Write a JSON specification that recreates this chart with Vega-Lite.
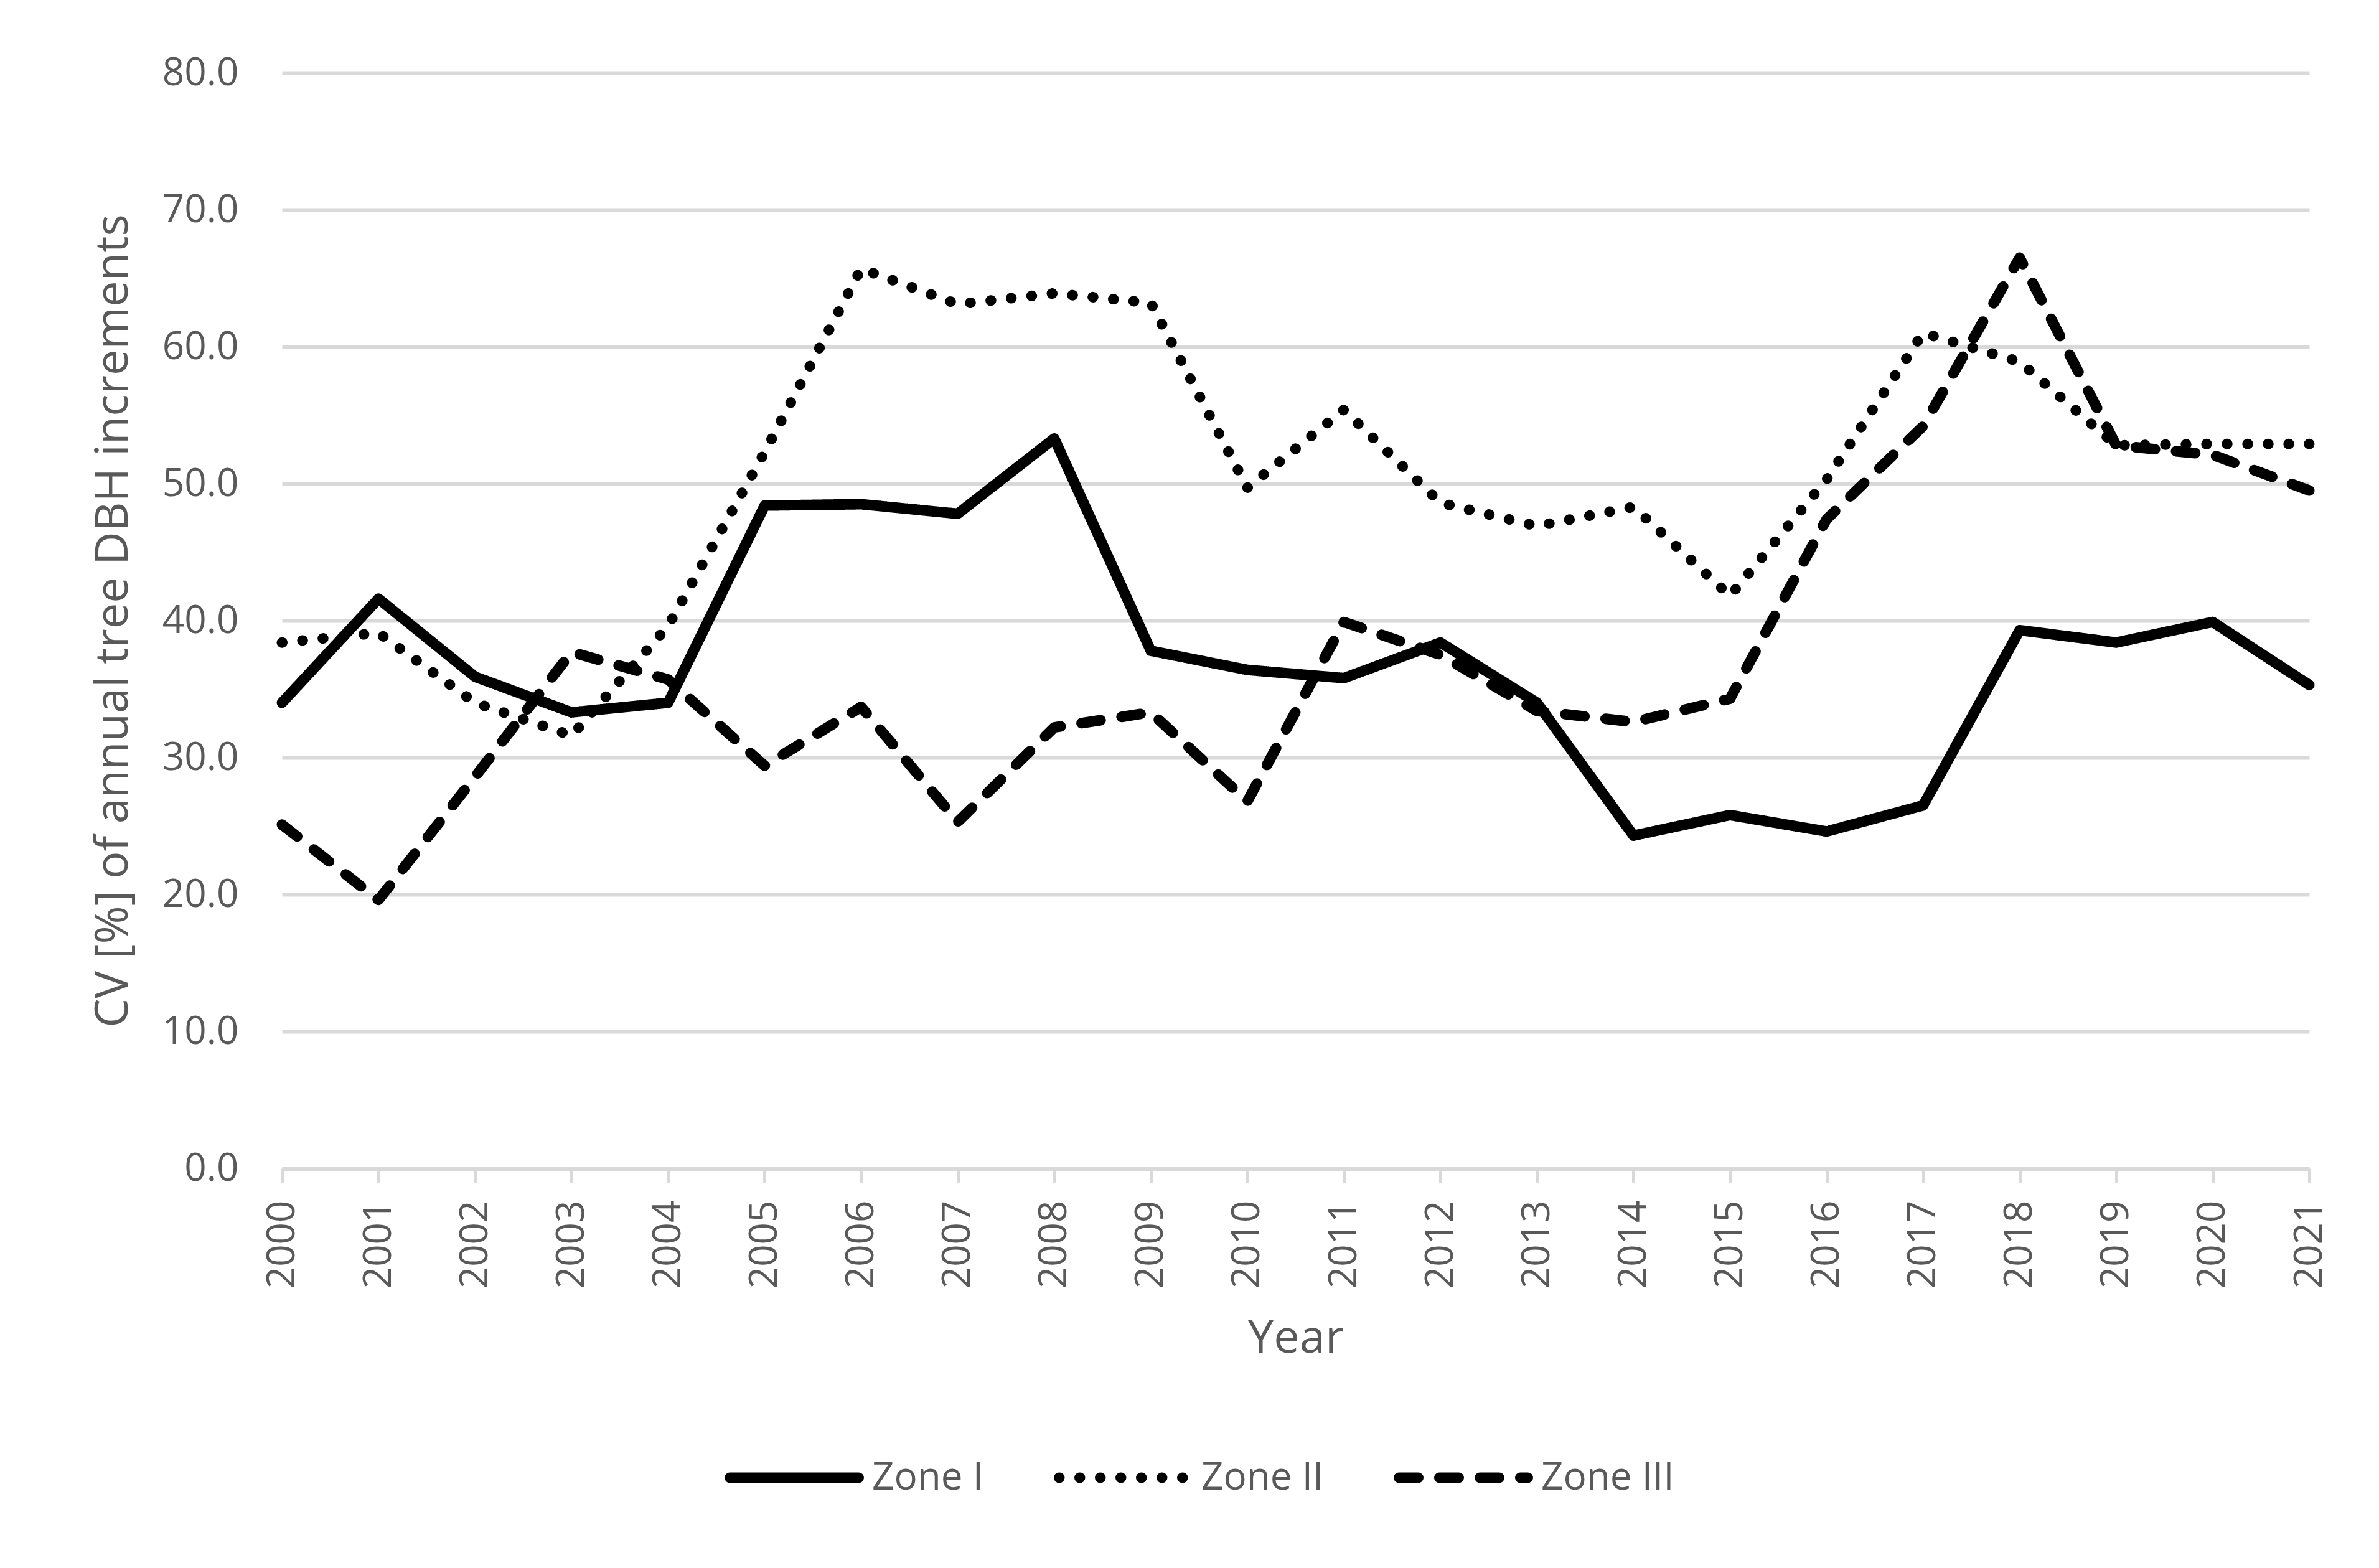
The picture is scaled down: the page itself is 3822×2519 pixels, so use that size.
{
  "$schema": "https://vega.github.io/schema/vega-lite/v6.json",
  "width": 3257,
  "height": 1760,
  "autosize": {"type": "none"},
  "padding": {"left": 453, "top": 117, "right": 112, "bottom": 642},
  "background": "white",
  "config": {"view": {"stroke": null}, "font": "Open Sans"},
  "data": {
    "values": [
      {"year": "2000", "zone": "Zone I", "cv": 34.0},
      {"year": "2001", "zone": "Zone I", "cv": 41.6},
      {"year": "2002", "zone": "Zone I", "cv": 35.9},
      {"year": "2003", "zone": "Zone I", "cv": 33.3},
      {"year": "2004", "zone": "Zone I", "cv": 34.0},
      {"year": "2005", "zone": "Zone I", "cv": 48.4},
      {"year": "2006", "zone": "Zone I", "cv": 48.5},
      {"year": "2007", "zone": "Zone I", "cv": 47.8},
      {"year": "2008", "zone": "Zone I", "cv": 53.3},
      {"year": "2009", "zone": "Zone I", "cv": 37.8},
      {"year": "2010", "zone": "Zone I", "cv": 36.4},
      {"year": "2011", "zone": "Zone I", "cv": 35.8},
      {"year": "2012", "zone": "Zone I", "cv": 38.4},
      {"year": "2013", "zone": "Zone I", "cv": 34.0},
      {"year": "2014", "zone": "Zone I", "cv": 24.3},
      {"year": "2015", "zone": "Zone I", "cv": 25.8},
      {"year": "2016", "zone": "Zone I", "cv": 24.6},
      {"year": "2017", "zone": "Zone I", "cv": 26.5},
      {"year": "2018", "zone": "Zone I", "cv": 39.3},
      {"year": "2019", "zone": "Zone I", "cv": 38.4},
      {"year": "2020", "zone": "Zone I", "cv": 39.9},
      {"year": "2021", "zone": "Zone I", "cv": 35.3},
      {"year": "2000", "zone": "Zone II", "cv": 38.4},
      {"year": "2001", "zone": "Zone II", "cv": 39.1},
      {"year": "2002", "zone": "Zone II", "cv": 34.0},
      {"year": "2003", "zone": "Zone II", "cv": 31.6},
      {"year": "2004", "zone": "Zone II", "cv": 39.6},
      {"year": "2005", "zone": "Zone II", "cv": 52.3},
      {"year": "2006", "zone": "Zone II", "cv": 65.7},
      {"year": "2007", "zone": "Zone II", "cv": 63.1},
      {"year": "2008", "zone": "Zone II", "cv": 63.9},
      {"year": "2009", "zone": "Zone II", "cv": 63.2},
      {"year": "2010", "zone": "Zone II", "cv": 49.7},
      {"year": "2011", "zone": "Zone II", "cv": 55.4},
      {"year": "2012", "zone": "Zone II", "cv": 48.6},
      {"year": "2013", "zone": "Zone II", "cv": 46.9},
      {"year": "2014", "zone": "Zone II", "cv": 48.3},
      {"year": "2015", "zone": "Zone II", "cv": 41.8},
      {"year": "2016", "zone": "Zone II", "cv": 50.3},
      {"year": "2017", "zone": "Zone II", "cv": 61.0},
      {"year": "2018", "zone": "Zone II", "cv": 58.9},
      {"year": "2019", "zone": "Zone II", "cv": 52.8},
      {"year": "2020", "zone": "Zone II", "cv": 52.9},
      {"year": "2021", "zone": "Zone II", "cv": 52.9},
      {"year": "2000", "zone": "Zone III", "cv": 25.1},
      {"year": "2001", "zone": "Zone III", "cv": 19.6},
      {"year": "2002", "zone": "Zone III", "cv": 28.6},
      {"year": "2003", "zone": "Zone III", "cv": 37.7},
      {"year": "2004", "zone": "Zone III", "cv": 35.7},
      {"year": "2005", "zone": "Zone III", "cv": 29.4},
      {"year": "2006", "zone": "Zone III", "cv": 33.7},
      {"year": "2007", "zone": "Zone III", "cv": 25.3},
      {"year": "2008", "zone": "Zone III", "cv": 32.2},
      {"year": "2009", "zone": "Zone III", "cv": 33.3},
      {"year": "2010", "zone": "Zone III", "cv": 26.8},
      {"year": "2011", "zone": "Zone III", "cv": 39.9},
      {"year": "2012", "zone": "Zone III", "cv": 37.5},
      {"year": "2013", "zone": "Zone III", "cv": 33.4},
      {"year": "2014", "zone": "Zone III", "cv": 32.6},
      {"year": "2015", "zone": "Zone III", "cv": 34.3},
      {"year": "2016", "zone": "Zone III", "cv": 47.4},
      {"year": "2017", "zone": "Zone III", "cv": 54.2},
      {"year": "2018", "zone": "Zone III", "cv": 66.5},
      {"year": "2019", "zone": "Zone III", "cv": 52.8},
      {"year": "2020", "zone": "Zone III", "cv": 52.1},
      {"year": "2021", "zone": "Zone III", "cv": 49.5}
    ]
  },
  "mark": {"type": "line", "color": "black", "strokeWidth": 17, "strokeCap": "round", "strokeJoin": "round"},
  "encoding": {
    "x": {
      "field": "year",
      "type": "ordinal",
      "scale": {"type": "point", "padding": 0},
      "axis": {
        "title": "Year",
        "labelAngle": -90,
        "labelFontSize": 62,
        "labelColor": "#595959",
        "labelPadding": 28,
        "tickSize": 23,
        "tickColor": "#d9d9d9",
        "tickWidth": 5,
        "domainColor": "#d9d9d9",
        "domainWidth": 7,
        "grid": false,
        "titleFontSize": 74,
        "titleFontWeight": "normal",
        "titleColor": "#595959",
        "titlePadding": 45
      }
    },
    "y": {
      "field": "cv",
      "type": "quantitative",
      "scale": {"domain": [0, 80], "nice": false},
      "axis": {
        "title": "CV [%] of annual tree DBH increments",
        "values": [0, 10, 20, 30, 40, 50, 60, 70, 80],
        "format": ".1f",
        "labelFontSize": 62,
        "labelColor": "#595959",
        "labelPadding": 70,
        "ticks": false,
        "domain": false,
        "gridColor": "#d9d9d9",
        "gridWidth": 6,
        "titleFontSize": 74,
        "titleFontWeight": "normal",
        "titleColor": "#595959",
        "titlePadding": 40
      }
    },
    "strokeDash": {
      "field": "zone",
      "type": "nominal",
      "scale": {
        "domain": ["Zone I", "Zone II", "Zone III"],
        "range": [[1, 0], [0.5, 32.5], [31, 34]]
      },
      "legend": {
        "orient": "none",
        "legendX": 711,
        "legendY": 2145,
        "direction": "horizontal",
        "title": null,
        "labelFontSize": 62,
        "labelColor": "#595959",
        "labelLimit": 0,
        "symbolType": "stroke",
        "symbolSize": 42849,
        "symbolStrokeWidth": 17,
        "symbolStrokeColor": "black",
        "labelOffset": 13,
        "columnPadding": 86,
        "encode": {"symbols": {"update": {"strokeCap": {"value": "round"}}}}
      }
    }
  }
}
